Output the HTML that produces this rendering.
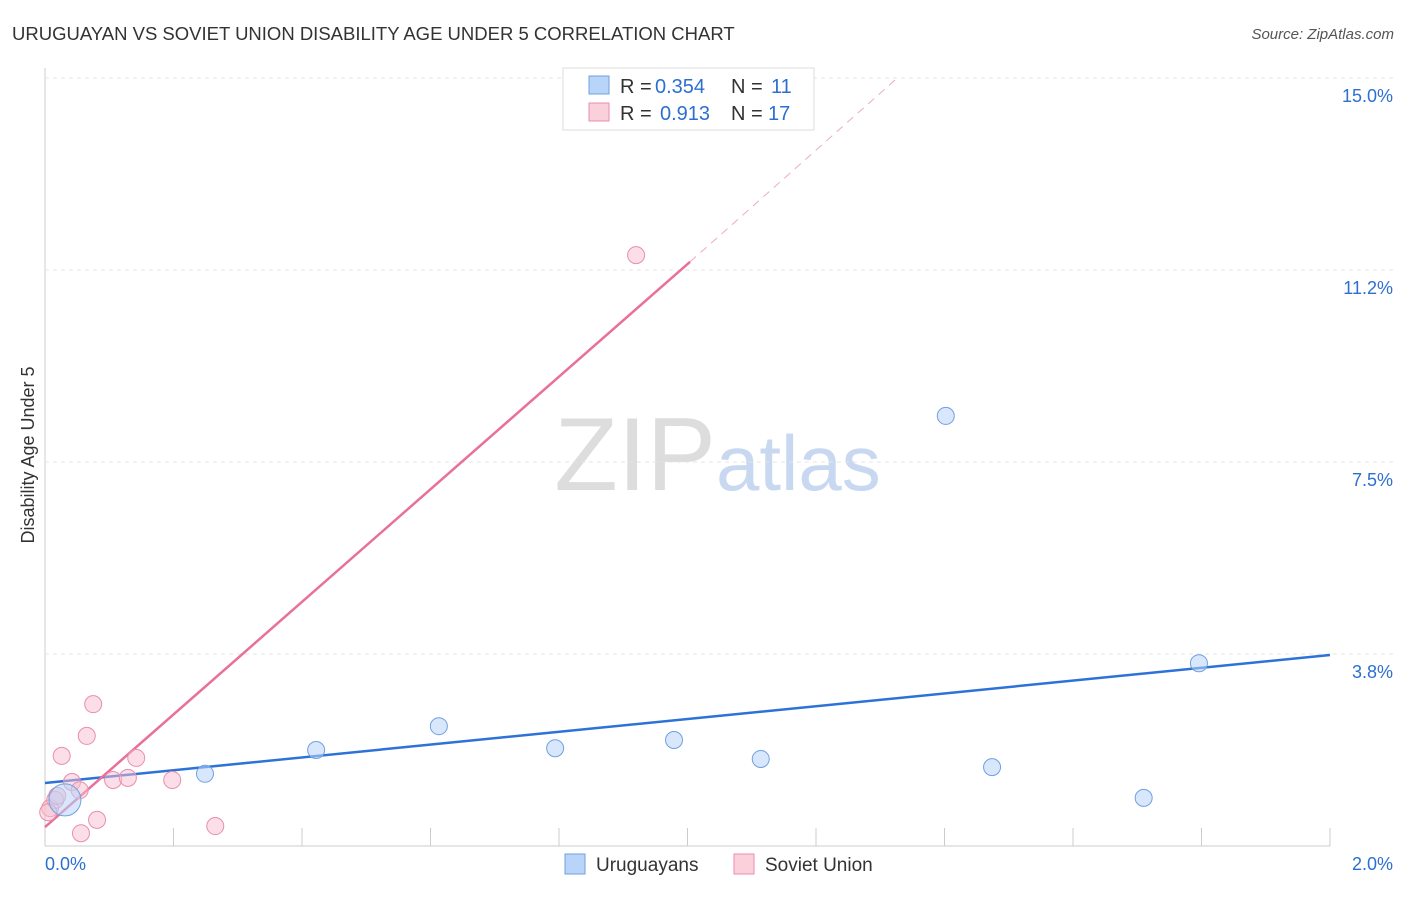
<!DOCTYPE html>
<html><head><meta charset="utf-8"><style>
body{margin:0;background:#fff;font-family:"Liberation Sans",sans-serif}
svg text{font-family:"Liberation Sans",sans-serif}
</style></head><body>
<svg id="c" width="1406" height="892">
<text x="12" y="40" font-size="18.5" fill="#333">URUGUAYAN VS SOVIET UNION DISABILITY AGE UNDER 5 CORRELATION CHART</text>
<text x="1394" y="39" font-size="15" fill="#555" font-style="italic" text-anchor="end">Source: ZipAtlas.com</text>
<text x="716" y="490" font-size="104" fill="#ddd" text-anchor="end" font-family="Liberation Serif">ZIP</text>
<text x="716" y="490" font-size="78" fill="#c8d8f0">atlas</text>
<text transform="translate(34,455) rotate(-90)" font-size="18" fill="#333" text-anchor="middle">Disability Age Under 5</text>
<g id="grid"></g><g id="lines"></g><g id="pts"></g>
<g>
<rect x="563" y="68" width="251" height="62" fill="#fff" stroke="#ddd"/>
<rect x="589" y="76" width="20" height="18" fill="#b8d4f8" stroke="#6fa0e0"/>
<text x="620" y="93" font-size="20" fill="#333">R =</text>
<text x="655" y="93" font-size="20" fill="#2d6fd1">0.354</text>
<text x="731" y="93" font-size="20" fill="#333">N =</text>
<text x="771" y="93" font-size="20" fill="#2d6fd1">11</text>
<rect x="589" y="103" width="20" height="18" fill="#fbcfdc" stroke="#e88fab"/>
<text x="620" y="120" font-size="20" fill="#333">R =</text>
<text x="660" y="120" font-size="20" fill="#2d6fd1">0.913</text>
<text x="731" y="120" font-size="20" fill="#333">N =</text>
<text x="768" y="120" font-size="20" fill="#2d6fd1">17</text>
</g>
<g>
<rect x="565" y="854" width="20" height="20" fill="#b8d4f8" stroke="#6fa0e0"/>
<text x="596" y="871" font-size="19" fill="#333">Uruguayans</text>
<rect x="734" y="854" width="20" height="20" fill="#fbcfdc" stroke="#e88fab"/>
<text x="765" y="871" font-size="19" fill="#333">Soviet Union</text>
</g>
</svg>
<script>
const yTicks=[3.75,7.5,11.25,15];
const yTickLabels=["3.8%","7.5%","11.2%","15.0%"];
const blueX=[0.031,0.249,0.422,0.613,0.794,0.979,1.114,1.402,1.474,1.710,1.796];
const blueY=[0.90,1.41,1.875,2.34,1.91,2.07,1.70,8.40,1.54,0.94,3.57];
const pinkX=[0.008,0.016,0.026,0.042,0.054,0.065,0.075,0.081,0.056,0.106,0.129,0.142,0.198,0.265,0.920,0.019,0.005];
const pinkY=[0.74,0.90,1.76,1.25,1.09,2.15,2.77,0.51,0.25,1.29,1.33,1.72,1.29,0.39,11.54,0.98,0.66];
const blueLine=[[0,1.23],[2,3.73]];
const pinkLine=[[0,0.37],[1.004,11.41]];
const pinkDash=[[1.004,11.41],[1.323,14.96]];
const X=v=>45+v/2*1285, Y=v=>846-v/3.75*192;
const ns="http://www.w3.org/2000/svg";
function mk(p,t,a){const e=document.createElementNS(ns,t);for(const k in a)e.setAttribute(k,a[k]);document.getElementById(p).appendChild(e);return e;}
let e=mk('grid','line',{x1:45,x2:1330,y1:846,y2:846,stroke:'#ccc'});


e=mk('grid','line',{x1:45,x2:45,y1:68,y2:846,stroke:'#ccc'});


yTicks.forEach((t,i)=>{
 e=mk('grid','line',{x1:45,x2:1395,y1:Y(t),y2:Y(t),stroke:'#e4e4e4','stroke-dasharray':'4,4'});
 
 
 e=mk('grid','text',{x:1393,y:Y(t)+24,'font-size':18,fill:'#2d6fd1','text-anchor':'end'});e.textContent=yTickLabels[i];
 
 
});
for(let i=1;i<=10;i++){e=mk('grid','line',{x1:X(i*0.2),x2:X(i*0.2),y1:828,y2:846,stroke:'#ccc'});
 
 }
e=mk('grid','text',{x:45,y:870,'font-size':18,fill:'#2d6fd1'});e.textContent='0.0%';


e=mk('grid','text',{x:1393,y:870,'font-size':18,fill:'#2d6fd1','text-anchor':'end'});e.textContent='2.0%';


function ln(d,c,w,dash,name){e=mk('lines','line',{x1:X(d[0][0]),y1:Y(d[0][1]),x2:X(d[1][0]),y2:Y(d[1][1]),stroke:c,'stroke-width':w});if(dash)e.setAttribute('stroke-dasharray',dash);
 
 }
ln(blueLine,'#2d72d6',2.5,null,'uruguayans-trendline');
ln(pinkLine,'#e8709a',2.5,null,'soviet-union-trendline');
ln(pinkDash,'#eeaac0',1,'8,6','soviet-union-trendline-extension');
pinkX.forEach((x,i)=>{e=mk('pts','circle',{cx:X(x),cy:Y(pinkY[i]),r:8.5,fill:'rgba(248,190,208,0.5)',stroke:'#e88fab'});
 
 });
blueX.forEach((x,i)=>{e=mk('pts','circle',{cx:X(x),cy:Y(blueY[i]),r:i==0?16:8.5,fill:'rgba(184,212,248,0.55)',stroke:'#6fa0e0'});
 
 });
</script>
</body></html>
